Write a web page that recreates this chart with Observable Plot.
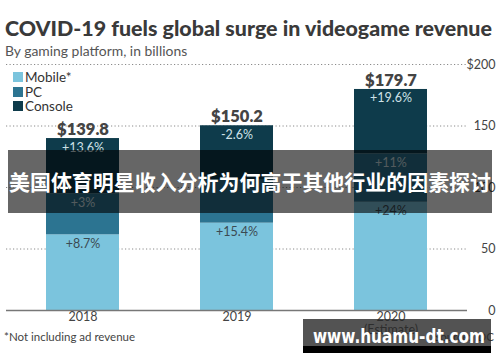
<!DOCTYPE html>
<html>
<head>
<meta charset="utf-8">
<script src="https://cdn.jsdelivr.net/npm/d3@7"></script>
<script src="https://cdn.jsdelivr.net/npm/@observablehq/plot@0.6"></script>
<style>
  html, body { margin: 0; padding: 0; background: #fff; }
  #wrap { position: relative; width: 500px; height: 362px; overflow: hidden; background: #fff; font-family: Lato, "Open Sans", sans-serif; }
  #chart { position: absolute; left: 0; top: 0; }
  .abs { position: absolute; white-space: nowrap; }
  .title { left: 5px; top: 18px; font-size: 21.4px; line-height: 21.4px; font-weight: 900; color: #3a3a3a; }
  .subtitle { left: 5px; top: 44px; font-size: 13.9px; line-height: 13.9px; color: #555; }
  .legend { left: 13px; top: 70px; font-size: 13.5px; color: #333; }
  .legend div { height: 14.5px; line-height: 14.5px; display: flex; align-items: center; }
  .legend span.sw { display: inline-block; width: 10px; height: 10px; margin-right: 2px; }
  .foot { left: 4px; top: 331px; font-size: 11.5px; line-height: 11.5px; color: #444; }
  .source { right: 6px; top: 331px; font-size: 11.5px; line-height: 11.5px; color: #444; }
  .band { left: 8px; top: 150px; width: 484px; height: 63px; background: rgba(0,0,0,0.6); }
  .wm { left: 303px; top: 319px; width: 188px; height: 34px; }
</style>
</head>
<body>
<div id="wrap">
  <div id="chart"></div>
  <div class="abs title">COVID-19 fuels global surge in videogame revenue</div>
  <div class="abs subtitle">By gaming platform, in billions</div>
  <div class="abs legend" id="legend"></div>
  <div class="abs foot">*Not including ad revenue</div>
  <div class="abs source">Source: IDC</div>
  <div class="abs band">
    <svg width="484" height="63"><text x="242" y="40" text-anchor="middle" fill="#fff" font-size="21" font-weight="700" font-family="'Noto Sans CJK SC', sans-serif" textLength="482" lengthAdjust="spacingAndGlyphs">美国体育明星收入分析为何高于其他行业的因素探讨</text></svg>
  </div>
  <div class="abs wm">
    <svg width="188" height="34">
      <rect x="0" y="0" width="188" height="27" fill="rgba(40,40,40,0.8)"></rect>
      <rect x="0" y="27" width="188" height="7" fill="#000"></rect>
      <text x="10" y="24" fill="#fff" font-size="20" font-weight="700" font-family="'DejaVu Sans', sans-serif" textLength="172" lengthAdjust="spacingAndGlyphs">www.huamu-dt.com</text>
    </svg>
  </div>
</div>
<script>
// ---- data ----
const years = ["2018", "2019", "2020"];
const yearLabels = ["2018", "2019", "2020\n(Estimate)"];
const platforms = ["Mobile*", "PC", "Console"];
const colors = ["#7bc4dd", "#2c7491", "#0e3b4b"];
const mobile = [61.5, 71.0, 88.0];
const pc = [33.4, 35.5, 39.4];
const consoleRev = [44.9, 43.7, 52.3];
const mobileGrowth = ["+8.7%", "+15.4%", "+24%"];
const pcGrowth = ["+3%", "", "+11%"];
const consoleGrowth = ["+13.6%", "-2.6%", "+19.6%"];
const totals = [139.8, 150.2, 179.7];
const totalLabels = ["$139.8", "$150.2", "$179.7"];
const yTicks = [0, 50, 100, 150, 200];
const yTickLabels = ["0", "50", "100", "150", "$200"];

const series = [mobile, pc, consoleRev];
const growth = [mobileGrowth, pcGrowth, consoleGrowth];
const data = years.flatMap((yr, i) =>
  platforms.map((p, j) => ({year: yr, platform: p, value: series[j][i], label: growth[j][i]}))
);

// legend
const leg = document.getElementById("legend");
platforms.forEach((p, j) => {
  const row = document.createElement("div");
  row.innerHTML = `<span class="sw" style="background:${colors[j]}"></span>${p}`;
  leg.appendChild(row);
});

const chart = Plot.plot({
  width: 500,
  height: 362,
  marginTop: 64,
  marginBottom: 52,
  marginLeft: 6,
  marginRight: 33,
  style: {fontFamily: "Lato, 'Open Sans', sans-serif", background: "transparent", overflow: "visible"},
  x: {domain: years, paddingInner: 0.527, paddingOuter: 0.255, axis: null},
  y: {domain: [0, 200], axis: null},
  color: {domain: platforms, range: colors},
  marks: [
    Plot.gridY([50, 100, 150, 200], {stroke: "#8a8a8a", strokeOpacity: 1, strokeDasharray: "1.2,2.3", strokeWidth: 1}),
    Plot.barY(data, {x: "year", y: "value", fill: "platform", order: platforms}),
    Plot.ruleY([0], {stroke: "#777", strokeWidth: 1.3}),
    Plot.text(yTicks, {y: d => d, frameAnchor: "right", dx: 28, textAnchor: "end",
      text: (d, i) => yTickLabels[i], fontSize: 12.5, fill: "#444"}),
    Plot.axisX({label: null, tickSize: 0, tickPadding: 2, tickFormat: d => yearLabels[years.indexOf(d)], fontSize: 12.5, fill: "#444"}),
    Plot.text(data, Plot.stackY2({x: "year", y: "value", z: "platform", order: platforms,
      text: d => d.platform === "Mobile*" ? d.label : "", dy: 9, fontSize: 12.5, fill: "#3b4a52"})),
    Plot.text(data, Plot.stackY2({x: "year", y: "value", z: "platform", order: platforms,
      text: d => d.platform !== "Mobile*" ? d.label : "", dy: 9, fontSize: 12.5, fill: "#cfe2e8"})),
    Plot.text(years, {x: d => d, y: (d, i) => totals[i], text: (d, i) => totalLabels[i],
      dy: -9, fontSize: 16.5, fontWeight: 800, fill: "#444"})
  ]
});
document.getElementById("chart").appendChild(chart);
</script>
</body>
</html>
